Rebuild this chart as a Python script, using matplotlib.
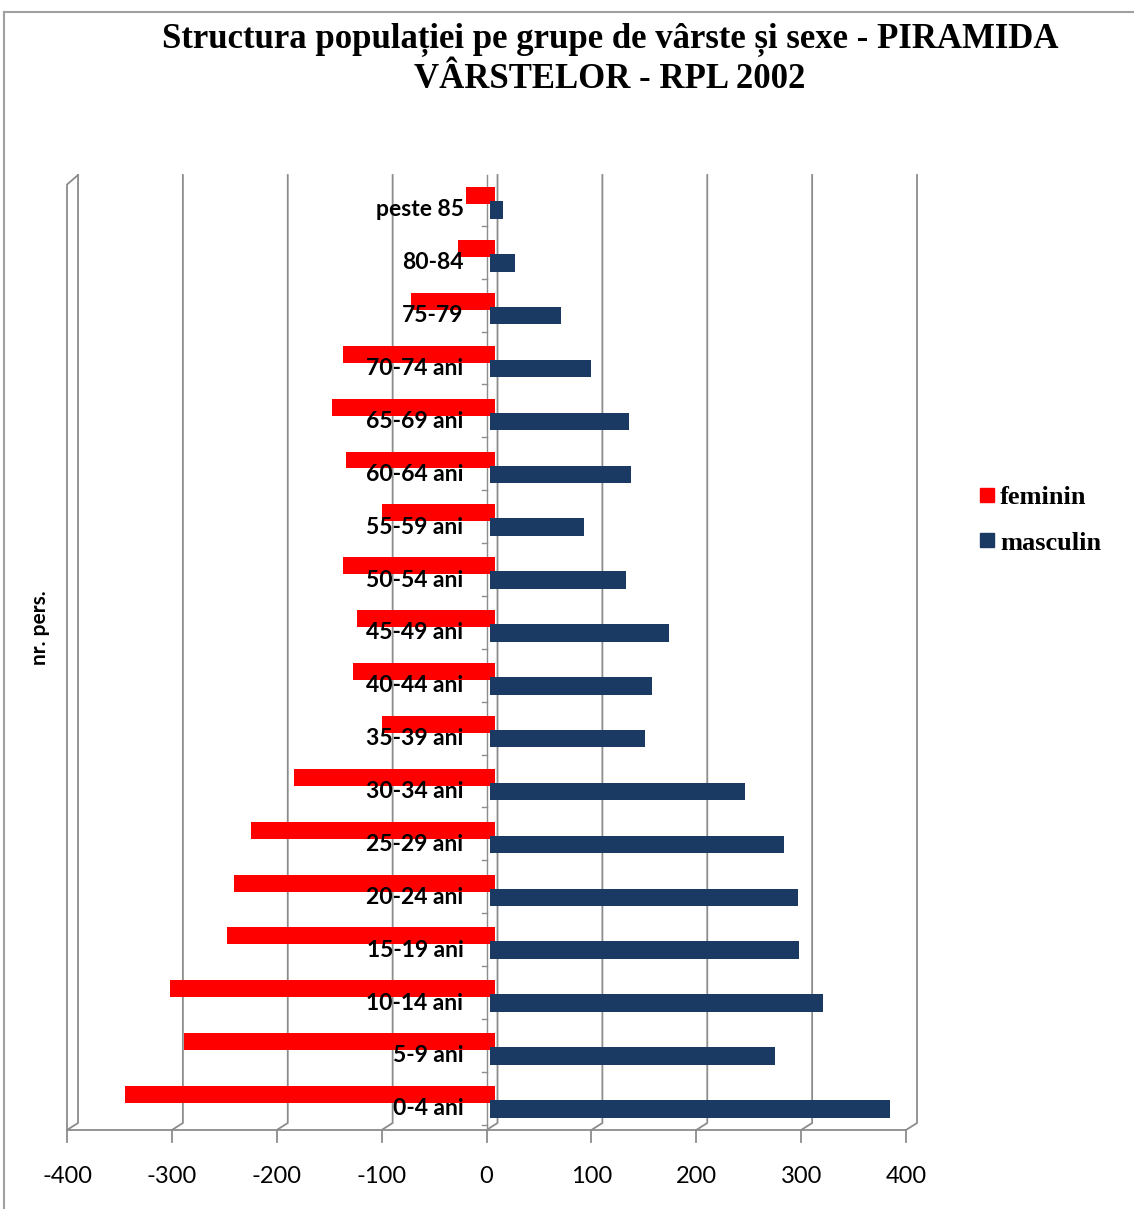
import matplotlib
matplotlib.use("Agg")
import matplotlib.pyplot as plt
from matplotlib.lines import Line2D
from matplotlib.transforms import ScaledTranslation
import numpy as np

# date RPL 2002 (nr. persoane)
grupe = ['0-4 ani', '5-9 ani', '10-14 ani', '15-19 ani', '20-24 ani', '25-29 ani',
         '30-34 ani', '35-39 ani', '40-44 ani', '45-49 ani', '50-54 ani', '55-59 ani',
         '60-64 ani', '65-69 ani', '70-74 ani', '75-79', '80-84', 'peste 85']
feminin = [-352, -296, -309, -255, -248, -232, -191, -107, -135, -131, -144, -107,
           -142, -155, -144, -80, -35, -27]
masculin = [382, 272, 318, 295, 294, 281, 244, 148, 155, 171, 130, 90,
            135, 133, 97, 68, 24, 13]
xticks = [-400, -300, -200, -100, 0, 100, 200, 300, 400]

ROSU = '#ff0000'
ALBASTRU = '#1b3a63'
GRI = '#8c8c8c'
SANS = ['Lato', 'DejaVu Sans']
SERIF = ['Liberation Serif', 'DejaVu Serif']
W, H = 1134, 1209

fig = plt.figure(figsize=(W / 100, H / 100), dpi=100)
ax = fig.add_axes([67 / W, 1 - 1130 / H, 839 / W, 955 / H])

y = np.arange(len(grupe))
dt_r = ax.transData + ScaledTranslation(8 / 100, 0, fig.dpi_scale_trans)
dt_b = ax.transData + ScaledTranslation(3 / 100, 0, fig.dpi_scale_trans)
ax.barh(y + 0.27, feminin, height=0.32, color=ROSU, transform=dt_r, zorder=3, label='feminin')
ax.barh(y, masculin, height=0.33, color=ALBASTRU, transform=dt_b, zorder=4, label='masculin')

for i, g in enumerate(grupe):
    ax.annotate(g, (0, i), xytext=(-23, 0), textcoords='offset pixels',
                ha='right', va='center', fontsize=16.5, fontweight='bold',
                family=SANS, zorder=6)

ax.set_xlim(-400, 400)
ax.set_ylim(-0.40, 17.66)

# pereti 3D imitati: grila din spate deplasata
D = 10.5
fr = 7 / 955
xt = ax.get_xaxis_transform()
for t in xticks:
    ax.plot([t, t + D, t + D], [0, fr, 1], color=GRI, lw=1.3, transform=xt,
            clip_on=False, zorder=1)
    ax.plot([t, t], [0, -12 / 955], color=GRI, lw=1.3, transform=xt, clip_on=False)
ax.plot([-400, -400, -400 + D], [0, 0.99, 1], color=GRI, lw=1.3, transform=xt, clip_on=False)
ax.plot([-400, 400], [0, 0], color=GRI, lw=1.3, transform=xt, clip_on=False)
ax.plot([0, 0], [0, 1], color=GRI, lw=1.0, transform=xt, clip_on=False, zorder=2)
for b in np.arange(len(grupe) + 1) - 0.5 + 0.2:
    ax.plot([-4, 0], [b, b], color=GRI, lw=1.0, zorder=2)

for s in ax.spines.values():
    s.set_visible(False)
ax.set_yticks([])
ax.set_xticks(xticks)
ax.set_xticklabels([str(t) for t in xticks], fontsize=17, family=SANS)
ax.tick_params(axis='x', length=0, pad=26)

fig.text(40 / W, 1 - 628 / H, 'nr. pers.', rotation=90, ha='center', va='center',
         fontsize=15, fontweight='bold', family=SANS)

fig.text(610 / W, 1 - 59 / H,
         'Structura populației pe grupe de vârste și sexe - PIRAMIDA\nVÂRSTELOR - RPL 2002',
         ha='center', va='center', fontsize=25, fontweight='bold', linespacing=1.3,
         family=SERIF)

leg = fig.legend(handles=[Line2D([], [], marker='s', ls='', color=ROSU, markersize=10),
                          Line2D([], [], marker='s', ls='', color=ALBASTRU, markersize=10)],
                 labels=['feminin', 'masculin'], loc='center left',
                 bbox_to_anchor=(954 / W, 1 - 520 / H), frameon=False,
                 handletextpad=0.15, handlelength=0.7, labelspacing=0.85,
                 prop={'family': SERIF, 'size': 19, 'weight': 'bold'})

fig.add_artist(Line2D([4 / W, 1], [1 - 12 / H, 1 - 12 / H], color='#a0a0a0', lw=1.5))
fig.add_artist(Line2D([4 / W, 4 / W], [0, 1 - 12 / H], color='#a0a0a0', lw=1.5))

fig.savefig('out.png', dpi=100)
